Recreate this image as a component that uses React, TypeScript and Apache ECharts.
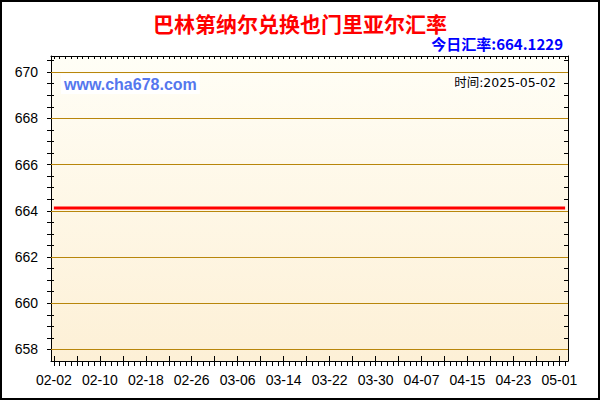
import * as echarts from "echarts";
import { useEffect, useRef } from "react";

const TITLE = "巴林第纳尔兑换也门里亚尔汇率";
const RATE_LABEL = "今日汇率:664.1229";
const SITE_LABEL = "www.cha678.com";
const TIME_LABEL = "时间:2025-05-02";

// one category per day, 2025-02-02 .. 2025-05-02
const FIRST_DAY = Date.UTC(2025, 1, 2);
const DAY_COUNT = 90;
const dates: string[] = [];
for (let i = 0; i < DAY_COUNT; i++) {
  const d = new Date(FIRST_DAY + i * 86400000);
  const mm = String(d.getUTCMonth() + 1).padStart(2, "0");
  const dd = String(d.getUTCDate()).padStart(2, "0");
  dates.push(`${mm}-${dd}`);
}

const RATE = 664.1229;
const rates = dates.map(() => RATE);

const yTickValues = [658, 660, 662, 664, 666, 668, 670];
const Y_MIN = 657.5;
const Y_MAX = 670.7;

const AXIS_FONT = "'Liberation Sans', Arial, sans-serif";
const CJK_FONT = "'Noto Sans CJK SC', 'Liberation Sans', sans-serif";

export default function App() {
  const chartRef = useRef<HTMLDivElement | null>(null);

  useEffect(() => {
    if (!chartRef.current) return;
    const chart = echarts.init(chartRef.current, null, { renderer: "svg" });

    const black = { color: "#000", width: 1 };

    const option: echarts.EChartsOption = {
      animation: false,
      backgroundColor: "#fff",
      grid: {
        left: 51,
        top: 56,
        right: 32,
        bottom: 39,
        show: true,
        borderWidth: 0,
        backgroundColor: {
          type: "linear",
          x: 0,
          y: 0,
          x2: 0,
          y2: 1,
          colorStops: [
            { offset: 0, color: "#fffef6" },
            { offset: 1, color: "#fdf0d6" },
          ],
        } as any,
      },
      xAxis: [
        {
          type: "category",
          data: dates,
          position: "bottom",
          boundaryGap: true,
          axisLine: { show: true, lineStyle: black },
          axisTick: {
            show: true,
            interval: 0,
            alignWithLabel: true,
            length: 5,
            lineStyle: black,
          },
          axisLabel: {
            interval: 7,
            color: "#000",
            fontSize: 14,
            fontFamily: AXIS_FONT,
            margin: 12,
          },
          splitLine: { show: false },
        },
        {
          type: "category",
          data: dates,
          position: "bottom",
          boundaryGap: true,
          axisLine: { show: false },
          axisTick: {
            show: true,
            inside: true,
            interval: 3,
            alignWithLabel: true,
            length: 5,
            lineStyle: black,
          },
          axisLabel: { show: false },
          splitLine: { show: false },
        },
        {
          type: "category",
          data: dates,
          position: "top",
          boundaryGap: true,
          axisLine: { show: true, lineStyle: black },
          axisTick: {
            show: true,
            inside: true,
            interval: 0,
            alignWithLabel: true,
            length: 3,
            lineStyle: black,
          },
          axisLabel: { show: false },
          splitLine: { show: false },
        },
      ],
      yAxis: [
        {
          type: "value",
          position: "left",
          min: Y_MIN,
          max: Y_MAX,
          interval: 0.5,
          axisLine: { show: true, lineStyle: black },
          axisTick: { show: true, length: 4, lineStyle: black },
          axisLabel: {
            color: "#000",
            fontSize: 14,
            fontFamily: AXIS_FONT,
            margin: 13,
            showMinLabel: false,
            showMaxLabel: false,
            formatter: (v: number) =>
              yTickValues.includes(v) ? String(v) : "",
          },
          splitLine: { show: false },
        },
        {
          type: "value",
          position: "left",
          min: Y_MIN,
          max: Y_MAX,
          interval: 0.5,
          axisLine: { show: false },
          axisTick: { show: true, inside: true, length: 3, lineStyle: black },
          axisLabel: { show: false },
          splitLine: { show: false },
        },
        {
          type: "value",
          position: "right",
          min: Y_MIN,
          max: Y_MAX,
          interval: 0.5,
          axisLine: { show: true, lineStyle: black },
          axisTick: { show: true, inside: true, length: 4, lineStyle: black },
          axisLabel: { show: false },
          splitLine: { show: false },
        },
      ],
      series: [
        {
          type: "line",
          xAxisIndex: 0,
          yAxisIndex: 0,
          data: rates,
          symbol: "none",
          lineStyle: { color: "#ff0000", width: 3 },
          z: 5,
          markLine: {
            silent: true,
            symbol: ["none", "none"],
            label: { show: false },
            lineStyle: { color: "#b8860b", width: 1, type: "solid" },
            data: yTickValues.map((v) => ({ yAxis: v })),
            z: 2,
          },
        },
      ],
      graphic: [
        {
          type: "rect",
          shape: { x: 1, y: 1, width: 598, height: 398 },
          style: { fill: "none", stroke: "#000", lineWidth: 2 },
          z: 100,
        },
        {
          type: "text",
          x: 300,
          y: 23,
          style: {
            text: TITLE,
            fill: "#ff0000",
            font: `bold 21px ${CJK_FONT}`,
            textAlign: "center",
            textVerticalAlign: "middle",
          },
        },
        {
          type: "text",
          x: 563,
          y: 43,
          style: {
            text: RATE_LABEL,
            fill: "#0000ff",
            font: `bold 15px ${CJK_FONT}`,
            textAlign: "right",
            textVerticalAlign: "middle",
          },
        },
        {
          type: "text",
          x: 61,
          y: 84,
          z: 50,
          style: {
            text: SITE_LABEL,
            fill: "#5577ee",
            font: `bold 16px ${AXIS_FONT}`,
            textAlign: "left",
            textVerticalAlign: "middle",
            backgroundColor: "#ffffff",
            padding: [2, 3, 2, 3],
          },
        },
        {
          type: "text",
          x: 557,
          y: 82,
          z: 50,
          style: {
            text: TIME_LABEL,
            fill: "#000",
            font: `12.5px 'DejaVu Sans', ${CJK_FONT}`,
            textAlign: "right",
            textVerticalAlign: "middle",
            backgroundColor: "#ffffff",
            padding: [1, 1, 1, 1],
          },
        },
      ],
    };

    chart.setOption(option);

    return () => {
      chart.dispose();
    };
  }, []);

  return (
    <div
      ref={chartRef}
      style={{
        position: "fixed",
        left: 0,
        top: 0,
        width: 600,
        height: 400,
      }}
    />
  );
}
